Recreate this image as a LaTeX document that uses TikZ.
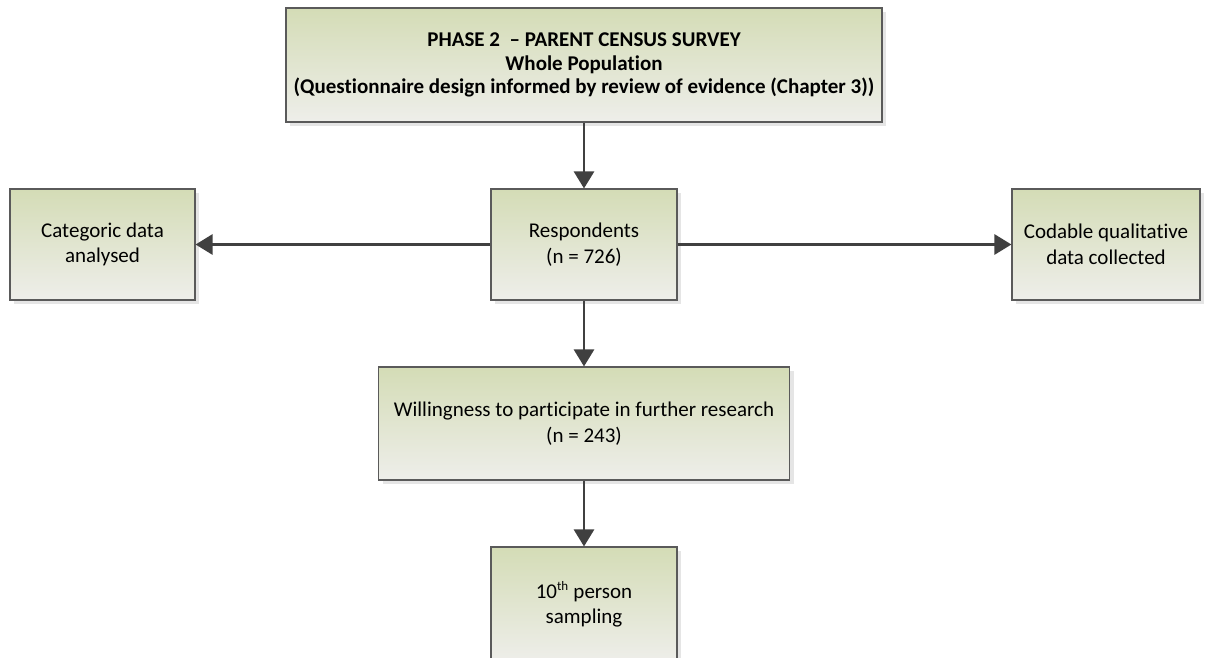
\documentclass[tikz,border=0pt]{standalone}
\usepackage{fontspec}
\setmainfont[RawFeature={-liga;-clig;-calt;-dlig}]{Carlito}
\usetikzlibrary{arrows.meta,shadows}
\definecolor{boxtop}{HTML}{D4DCB6}
\definecolor{boxbot}{HTML}{EEEEEA}
\definecolor{boxline}{HTML}{5A5A5A}
\definecolor{arrowcol}{HTML}{404040}
\tikzset{
  flowbox/.style={draw=boxline, line width=1.1pt, top color=boxtop, bottom color=boxbot,
    align=center, inner sep=0pt, font=\fontsize{21}{25.5}\selectfont,
    drop shadow={shadow xshift=4pt, shadow yshift=-4pt, fill=black!10, opacity=1}},
  arr/.style={draw=arrowcol, line width=2.8pt, -{Triangle[width=20pt,length=17pt]}}
}
\begin{document}
\begin{tikzpicture}[x=1pt,y=-1pt]
\useasboundingbox (0,0) rectangle (1205,658);
\clip (0,0) rectangle (1205,658);
\node[flowbox, minimum width=596pt, minimum height=114pt, font=\fontsize{21}{23.5}\selectfont\bfseries] (top) at (584,65)
  {PHASE 2\ \ -- PARENT CENSUS SURVEY\\Whole Population\\(Questionnaire design informed by review of evidence (Chapter 3))};
\node[flowbox, minimum width=186pt, minimum height=111pt] (resp) at (584,244.5) {Respondents\\(n = 726)};
\node[flowbox, minimum width=185pt, minimum height=111pt] (cat) at (102.5,244.5) {Categoric data\\analysed};
\node[flowbox, minimum width=188pt, minimum height=111pt] (cod) at (1106,244.5) {Codable qualitative\\data collected};
\node[flowbox, minimum width=411pt, minimum height=113pt] (will) at (584,423.5) {Willingness to participate in further research\\(n = 243)};
\node[flowbox, minimum width=186pt, minimum height=115pt] (tenth) at (584,604.5) {10\textsuperscript{\fontsize{13}{13}\selectfont th} person\\sampling};
\draw[arr] (top) -- (resp);
\draw[arr] (resp.west) -- (cat.east);
\draw[arr] (resp.east) -- (cod.west);
\draw[arr] (resp) -- (will);
\draw[arr] (will) -- (tenth);
\end{tikzpicture}
\end{document}
